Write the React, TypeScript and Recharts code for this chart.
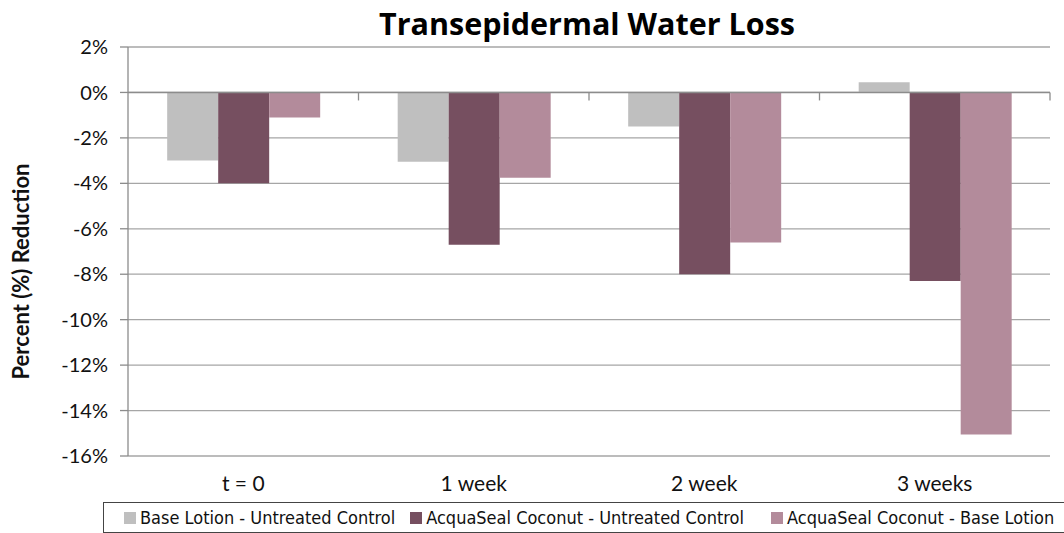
import React from "react";
import { BarChart, Bar, XAxis, YAxis, CartesianGrid, ReferenceLine, Legend } from "recharts";

const categories = ["t = 0", "1 week", "2 week", "3 weeks"];
const baseLotion = [-3.0, -3.05, -1.5, 0.45];
const coconutUntreated = [-4.0, -6.7, -8.0, -8.3];
const coconutBase = [-1.1, -3.75, -6.6, -15.05];
const yTicks = [-16, -14, -12, -10, -8, -6, -4, -2, 0, 2];
const seriesNames = [
  "Base Lotion - Untreated Control",
  "AcquaSeal Coconut - Untreated Control",
  "AcquaSeal Coconut - Base Lotion",
];
const colors = ["#BFBFBF", "#764F60", "#B38B9B"];

const data = categories.map((c, i) => ({
  name: c,
  a: baseLotion[i],
  b: coconutUntreated[i],
  c: coconutBase[i],
}));

const FONT = "'DejaVu Sans Condensed', 'Liberation Sans Narrow', 'Noto Sans', sans-serif";
const TICK_FONT = "Lato, 'Noto Sans', sans-serif";

const ZeroLine = (props: any) => {
  const { x1, x2, y1 } = props;
  const n = categories.length;
  const step = (x2 - x1) / n;
  const ticks = [];
  for (let i = 1; i <= n; i++) {
    const x = x1 + step * i;
    ticks.push(<line key={i} x1={x} x2={x} y1={y1} y2={y1 + 8} stroke="#8C8C8C" strokeWidth={1.3} />);
  }
  return (
    <g>
      <line x1={x1} x2={x2} y1={y1} y2={y1} stroke="#8C8C8C" strokeWidth={1.5} />
      {ticks}
    </g>
  );
};

const legendGaps = [0, 15, 27];

const LegendContent = () => (
  <div
    style={{
      display: "flex",
      alignItems: "center",
      height: "100%",
      paddingLeft: 20,
      fontFamily: FONT,
      fontSize: 18,
      color: "#111",
      whiteSpace: "nowrap",
    }}
  >
    {seriesNames.map((n, i) => (
      <div key={n} style={{ display: "flex", alignItems: "center", marginLeft: legendGaps[i] }}>
        <span style={{ display: "inline-block", width: 12, height: 12, background: colors[i], marginRight: 4 }} />
        <span>{n}</span>
      </div>
    ))}
  </div>
);

const YLabel = (props: any) => {
  const vb = props.viewBox || {};
  const cx = 20;
  const cy = (vb.y ?? 47) + (vb.height ?? 407) / 2 + 20;
  return (
    <text
      x={cx}
      y={cy}
      transform={`rotate(-90 ${cx} ${cy})`}
      textAnchor="middle"
      dominantBaseline="central"
      fontFamily={TICK_FONT}
      fontWeight="bold"
      fontSize={22}
      fill="#111"
    >
      Percent (%) Reduction
    </text>
  );
};

export default function App() {
  return (
    <div style={{ position: "absolute", left: 0, top: 0, width: 1064, height: 533, background: "#fff", overflow: "hidden" }}>
      <div
        style={{
          position: "absolute",
          left: 0,
          top: 2,
          width: 1174,
          textAlign: "center",
          fontFamily: "'Open Sans', sans-serif",
          fontWeight: 700,
          fontSize: 30.5,
          color: "#000",
          zIndex: 2,
        }}
      >
        Transepidermal Water Loss
      </div>
      <BarChart
        width={1064}
        height={533}
        data={data}
        margin={{ top: 47, right: 14, left: 0, bottom: 0 }}
        barCategoryGap="17%"
        barGap={0}
      >
        <CartesianGrid vertical={false} stroke="#A6A6A6" strokeWidth={1.3} />
        <XAxis
          dataKey="name"
          axisLine={false}
          tickLine={false}
          height={46}
          tickSize={8}
          tickMargin={12}
          tick={{ fontFamily: TICK_FONT, fontSize: 21, fill: "#111" }}
        />
        <YAxis
          width={128}
          domain={[-16, 2]}
          ticks={yTicks}
          interval={0}
          tickFormatter={(v: number) => `${v}%`}
          axisLine={{ stroke: "#8C8C8C", strokeWidth: 1.3 }}
          tickLine={{ stroke: "#8C8C8C", strokeWidth: 1.3 }}
          tickSize={8}
          tickMargin={12}
          tick={{ fontFamily: TICK_FONT, fontSize: 20, fill: "#111" }}
          label={<YLabel />}
        />
        <ReferenceLine y={0} shape={<ZeroLine />} ifOverflow="extendDomain" />
        <Bar dataKey="a" fill={colors[0]} isAnimationActive={false} />
        <Bar dataKey="b" fill={colors[1]} isAnimationActive={false} />
        <Bar dataKey="c" fill={colors[2]} isAnimationActive={false} />
        <Legend
          verticalAlign="bottom"
          height={33}
          content={<LegendContent />}
          wrapperStyle={{
            left: 103,
            top: 502,
            bottom: "auto",
            width: 1000,
            height: 31,
            border: "1px solid #444",
            boxSizing: "border-box",
          }}
        />
      </BarChart>
    </div>
  );
}
